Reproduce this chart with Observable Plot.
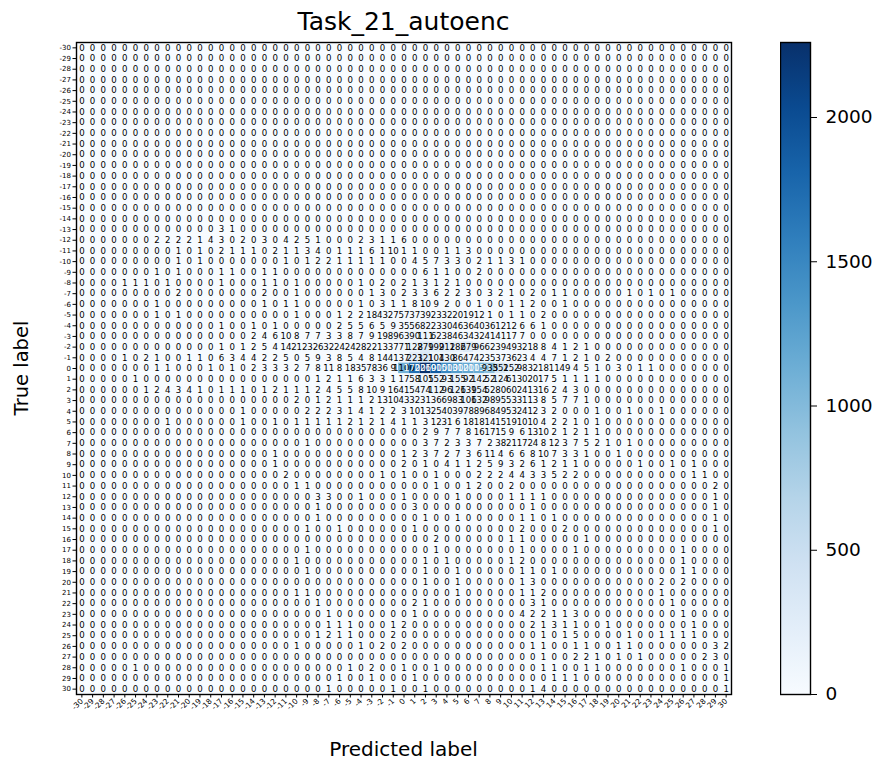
<!DOCTYPE html>
<html><head><meta charset="utf-8">
<script src="https://cdn.jsdelivr.net/npm/d3@7"></script>
<script src="https://cdn.jsdelivr.net/npm/@observablehq/plot@0.6"></script>
<style>
body{margin:0;background:#fff;font-family:"DejaVu Sans",sans-serif}
#wrap{position:relative;width:886px;height:757px;overflow:hidden;background:#fff}
#wrap svg{position:absolute;top:0}
</style>
</head><body><div id="wrap"></div>
<script>
const chartTitle = "Task_21_autoenc";
const xTitle = "Predicted label";
const yTitle = "True label";
const labels = [-30,-29,-28,-27,-26,-25,-24,-23,-22,-21,-20,-19,-18,-17,-16,-15,-14,-13,-12,-11,-10,-9,-8,-7,-6,-5,-4,-3,-2,-1,0,1,2,3,4,5,6,7,8,9,10,11,12,13,14,15,16,17,18,19,20,21,22,23,24,25,26,27,28,29,30];
const colorbarTicks = [0, 500, 1000, 1500, 2000];
// true labels with non-zero predictions (all other cells are 0)
const trueRows = [-13,-12,-11,-10,-9,-8,-7,-6,-5,-4,-3,-2,-1,0,1,2,3,4,5,6,7,8,9,10,11,12,13,14,15,16,17,18,19,20,21,22,23,24,25,26,27,28,29,30];
// "predicted:count" pairs for each true row
const rowCounts = [
"-17:3 -16:1",
"-23:2 -22:2 -21:2 -20:2 -19:1 -18:4 -17:3 -15:2 -13:3 -11:4 -10:2 -9:5 -8:1 -4:2 -3:3 -2:1 -1:1 0:6",
"-21:1 -19:1 -17:2 -16:1 -15:1 -14:1 -12:2 -11:1 -10:1 -9:3 -8:4 -6:1 -5:1 -4:1 -3:6 -2:1 -1:10 0:1 1:1 4:1 5:1 6:3",
"-21:1 -19:1 -11:1 -9:1 -8:2 -7:2 -6:1 -5:1 -4:1 -3:1 -2:1 1:4 2:5 3:7 4:3 5:3 7:2 8:1 9:1 10:3 11:1",
"-23:1 -21:1 -17:1 -16:1 -13:1 -12:1 2:6 3:1 4:1 7:2",
"-26:1 -25:1 -24:1 -22:1 -17:1 -13:1 -12:1 -10:1 -4:1 -2:2 0:2 1:1 2:3 3:1 4:2 5:1",
"-21:2 -13:2 -10:1 -3:1 -2:3 0:2 1:3 2:3 3:6 4:2 5:2 6:3 8:3 9:2 10:1 12:2 14:1 15:1 21:1 23:1 25:1",
"-23:1 -13:1 -11:1 -10:1 -4:1 -2:3 -1:1 0:1 1:8 2:10 3:9 4:2 7:1 10:1 11:1 12:2 15:1",
"-23:1 -21:1 -10:1 -6:1 -5:2 -4:2 -3:18 -2:43 -1:27 0:57 1:37 2:39 3:23 4:32 5:20 6:19 7:12 8:1 10:1 11:1 13:2",
"-17:1 -14:1 -12:1 -6:2 -5:5 -4:5 -3:6 -2:5 -1:9 0:35 1:56 2:82 3:23 4:30 5:46 6:36 7:40 8:36 9:12 10:12 11:6 12:6 13:1",
"-14:2 -13:4 -12:6 -11:10 -10:8 -9:7 -8:7 -7:3 -6:3 -5:8 -4:7 -3:9 -2:19 -1:89 0:63 1:90 2:111 3:62 4:38 5:46 6:34 7:32 8:41 9:41 10:17 11:7",
"-17:1 -15:1 -14:2 -13:5 -12:4 -11:14 -10:21 -9:23 -8:26 -7:32 -6:24 -5:24 -4:28 -3:22 -2:13 -1:37 0:71 1:128 2:279 3:199 4:212 5:186 6:279 7:96 8:62 9:39 10:49 11:32 12:18 13:8 14:4 15:1 16:2 17:1",
"-26:1 -24:2 -23:1 -20:1 -19:1 -17:6 -16:3 -15:4 -14:4 -13:2 -12:2 -11:5 -9:5 -8:9 -7:3 -6:8 -5:5 -4:4 -3:8 -2:14 -1:41 0:37 1:221 2:321 3:104 4:130 5:86 6:47 7:42 8:35 9:37 10:36 11:23 12:4 13:4 14:7 15:1 16:2 17:1 19:2",
"-23:1 -22:1 -18:1 -16:1 -14:2 -13:3 -12:3 -11:3 -10:2 -9:7 -8:8 -7:11 -6:8 -5:18 -4:35 -3:78 -2:36 -1:9 0:1100 1:1700 2:2260 3:1900 4:1500 5:1300 6:1200 7:1150 8:935 9:352 10:152 11:98 12:32 13:18 14:11 15:49 16:4 17:5 18:1 20:3 22:1 23:1",
"-25:1 -8:1 -7:2 -6:1 -5:1 -4:6 -3:3 -2:3 -1:1 0:17 1:58 2:105 3:152 4:93 5:155 6:92 7:142 8:52 9:124 10:61 11:30 12:20 13:17 14:5 15:1 16:1 17:1 18:1",
"-24:1 -23:2 -22:4 -21:3 -20:4 -19:1 -17:1 -16:1 -15:1 -13:1 -12:2 -11:1 -10:1 -9:1 -8:2 -7:4 -6:5 -5:5 -4:8 -3:10 -2:9 -1:16 0:41 1:54 2:74 3:112 4:96 5:126 6:139 7:154 8:52 9:80 10:60 11:24 12:13 13:16 14:2 15:4 16:3",
"-10:2 -8:1 -7:2 -6:1 -5:1 -4:1 -3:2 -2:13 -1:10 0:43 1:32 2:31 3:36 4:69 5:83 6:106 7:132 8:98 9:95 10:53 11:31 12:13 13:8 14:5 15:7 16:7 17:1",
"-15:1 -9:2 -8:2 -7:2 -6:3 -5:1 -4:4 -3:1 -2:2 -1:2 0:3 1:10 2:13 3:25 4:40 5:39 6:78 7:89 8:68 9:49 10:53 11:24 12:12 13:3 14:2 18:1 21:1 24:1",
"-22:1 -15:1 -12:1 -10:1 -9:1 -8:1 -7:1 -6:1 -5:2 -4:1 -3:2 -2:1 -1:4 0:1 1:1 2:3 3:12 4:31 5:6 6:18 7:18 8:14 9:15 10:19 11:10 12:10 13:4 14:2 15:2 16:1 18:1",
"2:2 3:9 4:7 5:7 6:8 7:16 8:17 9:15 10:9 11:6 12:13 13:10 14:2 15:1 16:2 17:1 18:1",
"-9:1 2:3 3:7 4:2 5:3 6:3 7:7 8:2 9:38 10:21 11:17 12:24 13:8 14:12 15:3 16:7 17:5 18:2 19:1 21:1",
"-12:1 0:1 1:2 2:3 3:7 4:2 5:7 6:3 7:6 8:11 9:4 10:6 11:6 12:8 13:10 14:7 15:3 16:3 17:1 20:1",
"-12:1 0:2 2:1 4:4 5:1 6:1 7:2 8:5 9:9 10:3 11:2 12:6 13:1 14:2 15:1 16:1 22:1 25:1 27:1",
"-11:2 -2:1 0:1 3:1 7:2 8:2 9:2 10:4 11:4 12:3 13:3 14:5 15:2 16:2 27:1 28:1",
"-10:1 -9:1 3:1 6:1 7:2 10:2 29:2",
"-8:3 -7:3 -4:1 0:1 5:1 10:1 11:1 12:1 13:1 29:1",
"-8:1 1:3 12:1 29:1",
"-8:1 2:1 5:1 11:1 12:1 14:1 29:1",
"-9:1 -6:1 1:1 11:2 15:2 29:1",
"3:2 10:1 11:1 17:1",
"-9:1 3:1 11:1 16:1 26:1",
"-10:1 2:1 4:1 10:1 11:2 26:1",
"-9:1 2:1 5:1 11:1 12:1 14:1 26:1 27:1",
"2:1 5:1 11:1 12:3 24:2 26:2",
"-10:1 -9:1 5:1 11:1 12:1 13:2 24:1",
"-8:1 1:2 2:1 12:3 13:1 25:1",
"-7:1 1:1 11:4 12:2 13:2 14:1 15:1 16:3 26:1",
"-7:1 -6:1 -5:1 -1:1 0:2 12:2 13:1 14:3 15:1 16:1 19:1 27:1",
"-8:1 -7:2 -6:1 -5:1 -1:2 13:1 15:1 16:5 21:1 24:1 25:1 26:1 27:1",
"-10:1 -4:1 -2:2 0:2 12:1 13:1 16:1 17:1 20:1 21:1 29:3 30:2",
"13:1 16:2 17:2 18:1 20:1 22:1 28:2 29:3",
"-25:1 -5:1 -3:2 0:1 3:1 13:1 14:1 17:1 18:1 26:1 30:1",
"-6:1 -3:1 1:1 14:1 15:1 16:1 30:1",
"-7:1 -1:1 2:1 12:1 13:4 30:1"
];

const lookup = new Map();
trueRows.forEach((t, i) => {
  rowCounts[i].split(" ").filter(Boolean).forEach(tok => {
    const [p, v] = tok.split(":").map(Number);
    lookup.set(t + "," + p, v);
  });
});
const cells = [];
for (const t of labels) for (const p of labels) cells.push({t, p, v: lookup.get(t + "," + p) ?? 0});
const maxV = d3.max(cells, d => d.v);

const font = "DejaVu Sans, sans-serif";
const W = 886, H = 757, mL = 76, mT = 42, plotR = 731, plotB = 694;

const main = Plot.plot({
  width: W, height: H,
  marginLeft: mL, marginRight: W - plotR, marginTop: mT, marginBottom: H - plotB,
  style: {fontFamily: font, background: "transparent", color: "black"},
  x: {type: "band", domain: labels, padding: 0},
  y: {type: "band", domain: labels, padding: 0},
  color: {type: "linear", domain: [0, maxV], scheme: "blues"},
  marks: [
    Plot.cell(cells, {x: "p", y: "t", fill: "v"}),
    Plot.text(cells, {x: "p", y: "t", text: d => String(d.v), fill: d => d.v > maxV / 2 ? "white" : "black", fontSize: 8.6}),
    Plot.frame({stroke: "black", strokeWidth: 1.4}),
    Plot.axisY({anchor: "left", tickSize: 3.5, tickPadding: 2, fontSize: 7, label: null}),
    Plot.axisX({anchor: "bottom", tickSize: 3.5, tickPadding: 2, tickRotate: -45, fontSize: 7.5, label: null})
  ]
});
document.getElementById("wrap").appendChild(main);

const svg = d3.select(main);
svg.append("text").attr("x", (mL + plotR) / 2).attr("y", 30).attr("text-anchor", "middle")
  .attr("font-family", font).attr("font-size", 25).attr("fill", "black").text(chartTitle);
svg.append("text").attr("transform", `translate(28,${(mT + plotB) / 2}) rotate(-90)`).attr("text-anchor", "middle")
  .attr("font-family", font).attr("font-size", 19.5).attr("fill", "black").text(yTitle);
svg.append("text").attr("x", (mL + plotR) / 2).attr("y", 756).attr("text-anchor", "middle")
  .attr("font-family", font).attr("font-size", 20).attr("fill", "black").text(xTitle);

// colorbar
const cbLeft = 780, cbWidth = 30;
const bar = Plot.plot({
  width: 106, height: H,
  marginLeft: 0, marginRight: 106 - cbWidth, marginTop: mT, marginBottom: H - plotB,
  style: {fontFamily: font, background: "transparent", color: "black"},
  y: {domain: [0, maxV]},
  marks: [
    Plot.rectY([{y1: 0, y2: maxV}], {y1: "y1", y2: "y2", fill: "url(#cbgrad)"}),
    Plot.frame({stroke: "black", strokeWidth: 1.4}),
    Plot.axisY({anchor: "right", ticks: colorbarTicks, tickSize: 6, tickPadding: 9, fontSize: 18.5, label: null, tickFormat: d => String(d)})
  ]
});
bar.style.left = cbLeft + "px";
document.getElementById("wrap").appendChild(bar);
const grad = d3.select(bar).insert("defs", ":first-child").append("linearGradient")
  .attr("id", "cbgrad").attr("x1", 0).attr("y1", 1).attr("x2", 0).attr("y2", 0);
[0, 0.1, 0.2, 0.3, 0.4, 0.5, 0.6, 0.7, 0.8, 0.9, 1].forEach(s => grad.append("stop").attr("offset", s).attr("stop-color", d3.interpolateBlues(s)));
</script>
</body></html>
